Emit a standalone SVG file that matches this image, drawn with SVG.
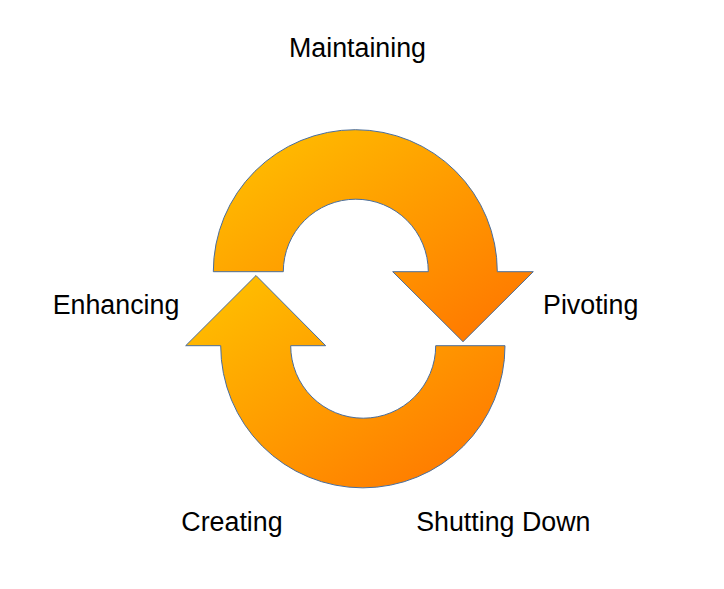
<svg xmlns="http://www.w3.org/2000/svg" width="724" height="589" viewBox="0 0 724 589">
<defs>
<linearGradient id="g" x1="0" y1="0" x2="1" y2="1">
<stop offset="0" stop-color="#ffc400"/>
<stop offset="1" stop-color="#ff7200"/>
</linearGradient>
</defs>
<style>
.arr{fill:url(#g);stroke:#4a6e9c;stroke-width:1}
.lbl{font-family:"Liberation Sans",Arial,sans-serif;font-size:26.8px;fill:#000;text-anchor:middle}
</style>
<rect width="724" height="589" fill="#fff"/>
<g id="connectors">
<g id="arrow-top"><path class="arr" d="M213.3 271.7 A142 142 0 0 1 497.3 271.7 L533.3 271.7 L463 341.7 L392.7 271.7 L428.3 271.7 A72.5 72.5 0 0 0 283.3 271.7 Z"/></g>
<g id="arrow-bottom"><path class="arr" d="M505 345.7 A142.15 142.15 0 0 1 220.7 345.7 L185.7 345.7 L256 275.5 L325.7 345.7 L290.7 345.7 A72.5 72.5 0 0 0 435.7 345.7 Z"/></g>
</g>
<g id="maintaining"><text class="lbl" x="357.5" y="57">Maintaining</text></g>
<g id="enhancing"><text class="lbl" x="116" y="314">Enhancing</text></g>
<g id="pivoting"><text class="lbl" x="590.7" y="314">Pivoting</text></g>
<g id="creating"><text class="lbl" x="232" y="530.5">Creating</text></g>
<g id="shutting-down"><text class="lbl" x="503.3" y="530.5">Shutting Down</text></g>
</svg>
